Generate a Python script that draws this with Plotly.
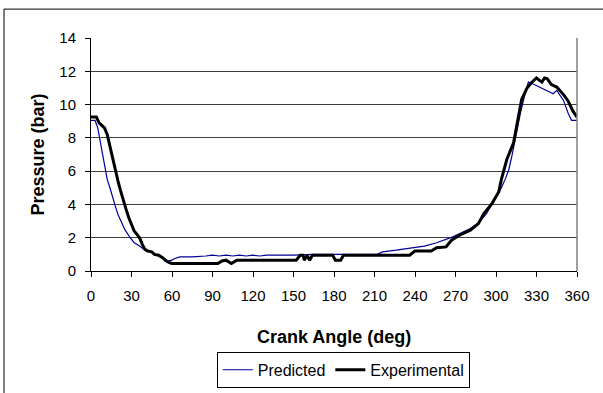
import plotly.graph_objects as go

# Predicted (thin blue)
pred_deg = [0, 3, 5, 7, 9, 10.5, 12, 14, 16, 18, 20, 22, 25, 29, 32, 36, 40, 45, 47, 50, 53, 57,
            60, 62, 66, 75, 85, 90, 95, 100, 105, 110, 115, 120, 125, 130, 150, 165, 212, 216, 226,
            236, 244, 247, 256, 268, 281, 287, 293, 300, 304, 307, 309.5, 311.6, 315, 318, 321.5,
            324, 326, 332.6, 337.5, 342.4, 345, 350, 353.6, 356, 360]
pred_p = [9.05, 9.05, 8.6, 7.7, 6.8, 6.0, 5.5, 5.0, 4.4, 3.9, 3.4, 3.0, 2.5, 2.0, 1.7, 1.5, 1.25, 1.15, 1.0, 0.95, 0.8, 0.6,
          0.65, 0.75, 0.85, 0.85, 0.9, 0.95, 0.9, 0.95, 0.9, 0.95, 0.9, 0.95, 0.9, 0.95, 0.95, 1.0, 1.0, 1.15, 1.25,
          1.35, 1.45, 1.5, 1.7, 2.05, 2.55, 2.9, 3.45, 4.45, 5.0, 5.55, 6.1, 6.85, 8.25, 9.45, 10.65,
          11.35, 11.3, 11.05, 10.85, 10.65, 10.85, 10.25, 9.45, 9.05, 9.05]

# Experimental (thick black)
exp_deg = [0, 4, 6, 8, 10, 12, 14, 16, 18, 20, 22, 24, 26, 28, 30, 32, 34, 36, 38, 40, 42, 45, 47, 50,
           53, 55, 58, 60, 94, 97, 100, 104, 108, 152, 155, 157, 158, 160, 162, 164, 179, 181, 185, 187,
           236, 240, 252, 256, 263, 267, 273, 281, 287, 291, 297, 302, 304, 306, 308, 313, 316.5, 319,
           323, 326, 330, 332, 334, 336, 338, 341, 345, 350, 353.5, 357, 360]
exp_p = [9.25, 9.25, 8.9, 8.75, 8.6, 8.2, 7.5, 6.8, 6.0, 5.4, 4.8, 4.2, 3.7, 3.2, 2.8, 2.4, 2.2, 2.0, 1.6, 1.3, 1.2, 1.15, 1.0, 0.95,
         0.8, 0.65, 0.5, 0.45, 0.45, 0.6, 0.65, 0.45, 0.65, 0.65, 0.95, 0.95, 0.65, 0.95, 0.65, 0.95, 0.95, 0.65, 0.65, 0.95,
         0.95, 1.2, 1.2, 1.4, 1.45, 1.85, 2.15, 2.45, 2.85, 3.45, 4.05, 4.75, 5.5, 6.1, 6.7, 7.7, 9.2, 10.3,
         11.0, 11.3, 11.6, 11.5, 11.35, 11.6, 11.55, 11.2, 11.05, 10.6, 10.2, 9.6, 9.25]

x_ticks = [0, 30, 60, 90, 120, 150, 180, 210, 240, 270, 300, 330, 360]
y_ticks = [0, 2, 4, 6, 8, 10, 12, 14]

FONT = "Liberation Sans, Arial, sans-serif"

fig = go.Figure()
fig.add_trace(go.Scatter(x=pred_deg, y=pred_p, mode="lines", name="Predicted",
                         line=dict(color="#000099", width=1.2)))
fig.add_trace(go.Scatter(x=exp_deg, y=exp_p, mode="lines", name="Experimental",
                         line=dict(color="#000000", width=3)))

fig.update_layout(
    width=603, height=393,
    margin=dict(l=91, r=26, t=38, b=122, autoexpand=False),
    paper_bgcolor="white", plot_bgcolor="white",
    font=dict(family=FONT, size=15, color="black"),
    showlegend=True,
    legend=dict(orientation="h", x=0.519, xanchor="center", y=-0.347, yanchor="top",
                bordercolor="black", borderwidth=1, font=dict(size=16),
                itemwidth=30, tracegroupgap=0),
    xaxis=dict(range=[0, 360], tickmode="array", tickvals=x_ticks,
               ticktext=[str(v) for v in x_ticks], ticks="outside", ticklen=5,
               tickcolor="black", showline=True, linecolor="black", linewidth=1,
               showgrid=False, zeroline=False, tickfont=dict(size=15),
               ticklabelstandoff=6, automargin=False),
    yaxis=dict(range=[0, 14], tickmode="array", tickvals=y_ticks,
               ticktext=[str(v) for v in y_ticks], ticks="outside", ticklen=5,
               tickcolor="black", showline=True, linecolor="black", linewidth=1,
               showgrid=True, gridcolor="#404040", gridwidth=1, zeroline=False,
               tickfont=dict(size=15), ticklabelstandoff=6, automargin=False),
    annotations=[
        dict(text="<b>Crank Angle (deg)</b>", xref="paper", yref="paper", x=0.5, y=-0.285,
             xanchor="center", yanchor="middle", showarrow=False, font=dict(size=18)),
        dict(text="<b>Pressure (bar)</b>", xref="paper", yref="paper", x=-0.111, y=0.5,
             xanchor="center", yanchor="middle", showarrow=False, textangle=-90,
             font=dict(size=18)),
    ],
    shapes=[
        dict(type="line", xref="paper", yref="paper", x0=1, x1=1, y0=0, y1=1,
             line=dict(color="#808080", width=1.5)),
        dict(type="line", xref="paper", yref="paper", x0=-0.179, x1=-0.179, y0=-0.6, y1=1.124,
             line=dict(color="black", width=1)),
        dict(type="line", xref="paper", yref="paper", x0=-0.179, x1=1.2, y0=1.124, y1=1.124,
             line=dict(color="black", width=1)),
    ],
)

fig.write_html("out.html")
